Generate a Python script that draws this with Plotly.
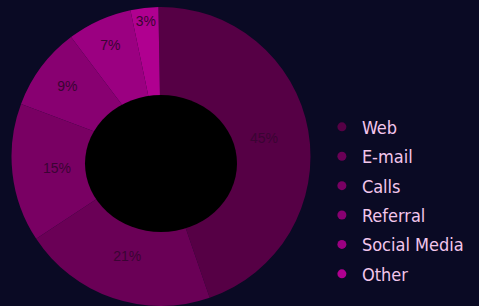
import plotly.graph_objects as go

categories = ["Web", "E-mail", "Calls", "Referral", "Social Media", "Other"]
values = [45, 21, 15, 9, 7, 3]
colors = ["#560045", "#6a0056", "#790063", "#880071", "#9b0081", "#b00090"]

BG = "#0a0a24"
W, H = 479, 306

fig = go.Figure()
fig.add_trace(go.Pie(
    labels=categories,
    values=values,
    hole=0.40,
    sort=False,
    direction="clockwise",
    rotation=-1,
    marker=dict(colors=colors, line=dict(width=0)),
    texttemplate="%{value}%",
    textposition="inside",
    insidetextorientation="horizontal",
    textfont=dict(family="Liberation Sans", size=14, color="#3a0433"),
    showlegend=False,
    domain=dict(x=[10 / W, 312 / W], y=[0, 299 / H]),
    hoverinfo="label+percent",
))

for cat, col in zip(categories, colors):
    fig.add_trace(go.Scatter(
        x=[None], y=[None], mode="markers", name=cat,
        legendgroup=cat,
        marker=dict(symbol="circle", size=9, color=col),
    ))

# black centre of the doughnut
fig.add_shape(type="circle", xref="paper", yref="paper", layer="above",
              x0=85 / W, x1=237 / W, y0=(H - 232) / H, y1=(H - 95) / H,
              fillcolor="#000000", line=dict(width=0))

fig.update_layout(
    width=W, height=H,
    margin=dict(l=0, r=0, t=0, b=0),
    paper_bgcolor=BG, plot_bgcolor=BG,
    xaxis=dict(visible=False), yaxis=dict(visible=False),
    legend=dict(
        x=0.672, y=0.645, xanchor="left", yanchor="top",
        bgcolor="rgba(0,0,0,0)",
        font=dict(family="Liberation Sans Narrow, DejaVu Sans Condensed, Liberation Sans", size=18, color="#f3c6ec"),
        tracegroupgap=3,
        itemwidth=30,
    ),
)

fig.write_html("out.html", config={"displayModeBar": False},
               post_script="document.body.style.margin='0';document.body.style.overflow='hidden';")
